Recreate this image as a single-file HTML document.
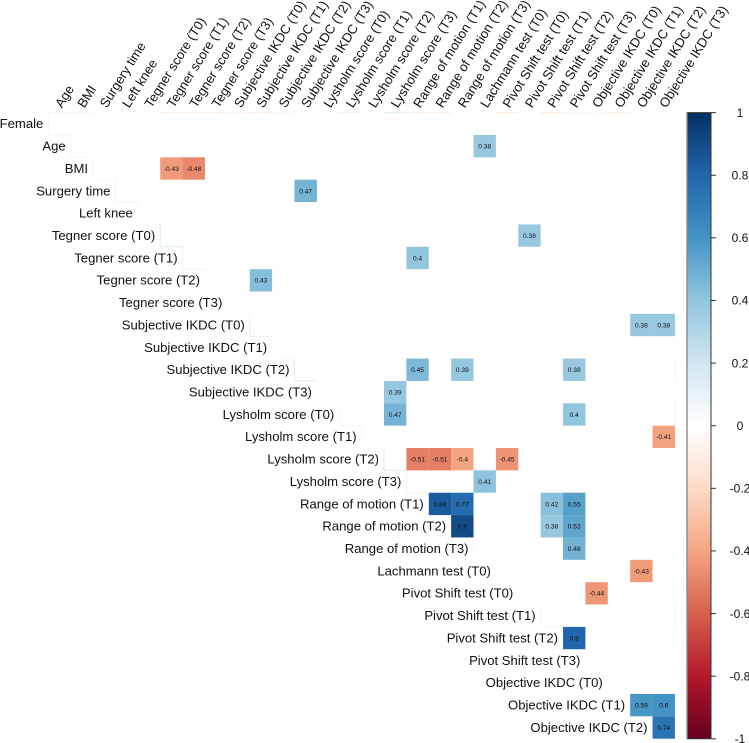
<!DOCTYPE html>
<html>
<head>
<meta charset="utf-8">
<title>Correlation matrix</title>
<style>
html,body{margin:0;padding:0;background:#fff;width:749px;height:743px;overflow:hidden}
svg{display:block;filter:blur(0.35px)}
text{font-family:"Liberation Sans",sans-serif}
</style>
</head>
<body>
<svg id="chart" xmlns="http://www.w3.org/2000/svg" width="749" height="743" viewBox="0 0 749 743">
<defs>
<linearGradient id="rdbu" x1="0" y1="1" x2="0" y2="0">
<stop offset="0" stop-color="#67001F"/><stop offset="0.1" stop-color="#B2182B"/><stop offset="0.2" stop-color="#D6604D"/><stop offset="0.3" stop-color="#F4A582"/><stop offset="0.4" stop-color="#FDDBC7"/><stop offset="0.5" stop-color="#FFFFFF"/><stop offset="0.6" stop-color="#D1E5F0"/><stop offset="0.7" stop-color="#92C5DE"/><stop offset="0.8" stop-color="#4393C3"/><stop offset="0.9" stop-color="#2166AC"/><stop offset="1" stop-color="#053061"/>
</linearGradient>
</defs>
<g id="faint"></g>
<g id="cells"></g>
<g id="rowLabels"></g>
<g id="colLabels"></g>
<g id="legend"></g>
</svg>
<script>
const rowNames = ["Female","Age","BMI","Surgery time","Left knee","Tegner score (T0)","Tegner score (T1)","Tegner score (T2)","Tegner score (T3)","Subjective IKDC (T0)","Subjective IKDC (T1)","Subjective IKDC (T2)","Subjective IKDC (T3)","Lysholm score (T0)","Lysholm score (T1)","Lysholm score (T2)","Lysholm score (T3)","Range of motion (T1)","Range of motion (T2)","Range of motion (T3)","Lachmann test (T0)","Pivot Shift test (T0)","Pivot Shift test (T1)","Pivot Shift test (T2)","Pivot Shift test (T3)","Objective IKDC (T0)","Objective IKDC (T1)","Objective IKDC (T2)"];
const colNames = ["Age","BMI","Surgery time","Left knee","Tegner score (T0)","Tegner score (T1)","Tegner score (T2)","Tegner score (T3)","Subjective IKDC (T0)","Subjective IKDC (T1)","Subjective IKDC (T2)","Subjective IKDC (T3)","Lysholm score (T0)","Lysholm score (T1)","Lysholm score (T2)","Lysholm score (T3)","Range of motion (T1)","Range of motion (T2)","Range of motion (T3)","Lachmann test (T0)","Pivot Shift test (T0)","Pivot Shift test (T1)","Pivot Shift test (T2)","Pivot Shift test (T3)","Objective IKDC (T0)","Objective IKDC (T1)","Objective IKDC (T2)","Objective IKDC (T3)"];
// significant correlations: [row name, column name, r]
const sigCorrelations = [
["BMI","Tegner score (T1)",-0.43],["BMI","Tegner score (T2)",-0.48],
["Age","Lachmann test (T0)",0.38],
["Surgery time","Subjective IKDC (T3)",0.47],
["Tegner score (T0)","Pivot Shift test (T1)",0.38],
["Tegner score (T1)","Range of motion (T1)",0.4],
["Tegner score (T2)","Subjective IKDC (T1)",0.43],
["Subjective IKDC (T0)","Objective IKDC (T2)",0.38],["Subjective IKDC (T0)","Objective IKDC (T3)",0.38],
["Subjective IKDC (T2)","Range of motion (T1)",0.45],["Subjective IKDC (T2)","Range of motion (T3)",0.39],["Subjective IKDC (T2)","Pivot Shift test (T3)",0.38],
["Subjective IKDC (T3)","Lysholm score (T3)",0.39],
["Lysholm score (T0)","Lysholm score (T3)",0.47],["Lysholm score (T0)","Pivot Shift test (T3)",0.4],
["Lysholm score (T1)","Objective IKDC (T3)",-0.41],
["Lysholm score (T2)","Range of motion (T1)",-0.51],["Lysholm score (T2)","Range of motion (T2)",-0.51],["Lysholm score (T2)","Range of motion (T3)",-0.4],["Lysholm score (T2)","Pivot Shift test (T0)",-0.45],
["Lysholm score (T3)","Lachmann test (T0)",0.41],
["Range of motion (T1)","Range of motion (T2)",0.84],["Range of motion (T1)","Range of motion (T3)",0.77],["Range of motion (T1)","Pivot Shift test (T2)",0.42],["Range of motion (T1)","Pivot Shift test (T3)",0.55],
["Range of motion (T2)","Range of motion (T3)",0.9],["Range of motion (T2)","Pivot Shift test (T2)",0.38],["Range of motion (T2)","Pivot Shift test (T3)",0.53],
["Range of motion (T3)","Pivot Shift test (T3)",0.48],
["Lachmann test (T0)","Objective IKDC (T2)",-0.43],
["Pivot Shift test (T0)","Objective IKDC (T0)",-0.44],
["Pivot Shift test (T2)","Pivot Shift test (T3)",0.8],
["Objective IKDC (T1)","Objective IKDC (T2)",0.59],["Objective IKDC (T1)","Objective IKDC (T3)",0.6],
["Objective IKDC (T2)","Objective IKDC (T3)",0.74]
];
// faint tints of blanked cells along the staircase, one per row
const stairValues = [-0.08,-0.05,-0.06,-0.1,-0.04,0.16,0.1,0.03,0.02,0.12,0.04,0.14,0.03,-0.06,-0.04,0.14,-0.1,0,0.02,0.04,0.03,-0.03,-0.07,0,0,0.01,0,0];
// faint tints along the top edge, one per column
const topValues = [-0.08,0.06,0.01,0.01,-0.01,-0.1,-0.1,-0.1,-0.08,-0.1,-0.06,0.01,0.01,0.1,0.01,0.14,-0.1,-0.1,0.01,0.01,-0.14,0,-0.14,-0.06,0.05,-0.12,0,0];
// faint tints along the right edge, one per row
const rightValues = [0,0,0,0,0,0,0,0.03,0,0.05,0.03,0.06,0.02,-0.1,0,0,0,0,0.04,0.03,0,0.02,0.08,0.04,0,0,0,0];
const legendTicks = [1,0.8,0.6,0.4,0.2,0,-0.2,-0.4,-0.6,-0.8,-1];

const NS = "http://www.w3.org/2000/svg";
const plotLeft = 48.3, plotTop = 112.6, cellW = 22.38, cellH = 22.36;
const barLeft = 687, barRight = 711, barTop = 112.6, barBottom = 738.8;
const colorStops = ["#67001F","#B2182B","#D6604D","#F4A582","#FDDBC7","#FFFFFF","#D1E5F0","#92C5DE","#4393C3","#2166AC","#053061"];

function xAxis(i){ return plotLeft + i * cellW; }
function yAxis(i){ return plotTop + i * cellH; }
function legendY(v){ return barBottom - (v + 1) / 2 * (barBottom - barTop); }
function hex(c){ return [1,3,5].map(function(p){ return parseInt(c.substr(p,2),16); }); }
function colorOf(v){
  const t = Math.max(0, Math.min(1, (v + 1) / 2)) * (colorStops.length - 1);
  const i = Math.min(Math.floor(t), colorStops.length - 2), f = t - i;
  const a = hex(colorStops[i]), b = hex(colorStops[i + 1]);
  return "rgb(" + a.map(function(x, k){ return Math.round(x + (b[k] - x) * f); }).join(",") + ")";
}
function make(tag, parentId, attrs, txt){
  const el = document.createElementNS(NS, tag);
  for (const k in attrs) el.setAttribute(k, attrs[k]);
  if (txt !== undefined) el.textContent = txt;
  document.getElementById(parentId).appendChild(el);
  return el;
}

stairValues.forEach(function(v, r){
  if (!v) return;
  const x = xAxis(r), y = yAxis(r);
  const c = colorOf(v);
  const l = make("path", "faint", {d:"M"+x+" "+y+"V"+(y+cellH)+"H"+(x+cellW), fill:"none", stroke:c, "stroke-width":1});
  
  
});
topValues.forEach(function(v, c){
  if (!v) return;
  const l = make("line", "faint", {x1:xAxis(c), x2:xAxis(c+1), y1:plotTop, y2:plotTop, stroke:colorOf(v), "stroke-width":1});
  
  
});
rightValues.forEach(function(v, r){
  if (!v) return;
  const l = make("line", "faint", {x1:xAxis(28), x2:xAxis(28), y1:yAxis(r), y2:yAxis(r+1), stroke:colorOf(v), "stroke-width":1});
  
  
});

sigCorrelations.forEach(function(d){
  const r = rowNames.indexOf(d[0]), c = colNames.indexOf(d[1]), v = d[2];
  const x = xAxis(c), y = yAxis(r);
  const rect = make("rect", "cells", {x:x, y:y, width:cellW, height:cellH, fill:colorOf(v)});
  
  
  const t = make("text", "cells", {x:x + cellW / 2, y:y + cellH / 2 + 2.4, "text-anchor":"middle", "font-size":6.6, fill:"#111"}, String(v));
  
  
});

rowNames.forEach(function(n, r){
  const t = make("text", "rowLabels", {x:xAxis(r) - 5, y:yAxis(r) + cellH / 2 + 4.4, "text-anchor":"end", "font-size":13.1, fill:"#111"}, n);
  
  
});
colNames.forEach(function(n, c){
  const x = xAxis(c) + cellW / 2, y = plotTop - 4;
  const t = make("text", "colLabels", {transform:"translate("+(x + 2.5)+" "+y+") rotate(-58)", "font-size":13.1, fill:"#111"}, n);
  
  
});

const bar = make("rect", "legend", {x:barLeft, y:barTop, width:barRight - barLeft, height:barBottom - barTop, fill:"url(#rdbu)"});


const barEdge = make("path", "legend", {d:"M"+barLeft+" "+barBottom+"V"+barTop+"H"+barRight+"V"+barBottom+"H"+barLeft, fill:"none", stroke:"#333", "stroke-width":1});


const barLeftEdge = make("line", "legend", {x1:barLeft, x2:barLeft, y1:barTop, y2:barBottom, stroke:"#8a8a8a", "stroke-width":1.4});


legendTicks.forEach(function(v){
  const y = legendY(v);
  const tick = make("line", "legend", {x1:barRight, x2:barRight + 5, y1:y, y2:y, stroke:"#333", "stroke-width":1});
  
  
  const t = make("text", "legend", {x:740, y:y + 4.2, "text-anchor":"middle", "font-size":12, fill:"#111"}, String(v));
  
  
});
</script>
</body>
</html>
